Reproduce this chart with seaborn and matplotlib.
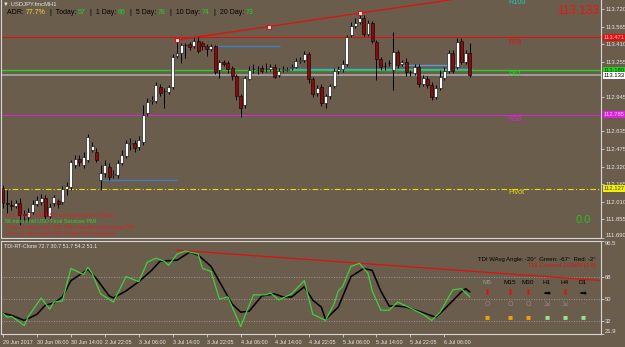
import matplotlib
matplotlib.use("Agg")
import matplotlib.pyplot as plt
import seaborn as sns
import pandas as pd
import numpy as np

# ---- candles (H1 bars, oldest first) ----
opens = [112.132, 111.998, 111.981, 111.972, 111.998, 111.901, 111.874, 111.918, 111.989, 112.007,
         112.043, 111.883, 111.998, 112.016, 112.007, 112.123, 112.141, 112.336, 112.390, 112.336,
         112.381, 112.469, 112.452, 112.203, 112.265, 112.318, 112.247, 112.247, 112.354, 112.416,
         112.523, 112.532, 112.496, 112.541, 112.798, 112.905, 112.905, 113.030, 112.994, 112.985,
         113.030, 113.305, 113.332, 113.403, 113.412, 113.394, 113.439, 113.421, 113.394, 113.367,
         113.394, 113.181, 113.252, 113.243, 113.199, 113.127, 112.950, 112.870, 113.101, 113.190,
         113.181, 113.199, 113.190, 113.190, 113.207, 113.136, 113.181, 113.181, 113.199, 113.207,
         113.261, 113.270, 113.323, 113.101, 112.976, 113.030, 112.887, 112.950, 113.038, 113.172,
         113.190, 113.234, 113.492, 113.572, 113.607, 113.643, 113.501, 113.599, 113.430, 113.279,
         113.216, 113.243, 113.181, 113.341, 113.234, 113.252, 113.163, 113.154, 113.207, 113.056,
         113.101, 113.047, 112.941, 113.021, 113.110, 113.172, 113.332, 113.207, 113.439, 113.252,
         113.332]
closes = [111.998, 111.989, 111.972, 111.998, 111.892, 111.892, 111.918, 111.989, 112.025, 112.043,
          111.883, 111.963, 112.052, 111.989, 112.123, 112.149, 112.363, 112.390, 112.363, 112.407,
          112.585, 112.505, 112.381, 112.265, 112.336, 112.230, 112.256, 112.354, 112.425, 112.532,
          112.532, 112.487, 112.558, 112.781, 112.896, 112.914, 113.047, 112.976, 112.990, 113.030,
          113.296, 113.332, 113.403, 113.400, 113.385, 113.439, 113.350, 113.394, 113.367, 113.394,
          113.163, 113.252, 113.234, 113.190, 113.127, 112.950, 112.843, 113.110, 113.181, 113.186,
          113.177, 113.172, 113.186, 113.207, 113.118, 113.172, 113.190, 113.190, 113.207, 113.261,
          113.270, 113.323, 113.101, 112.967, 113.021, 112.887, 112.950, 113.038, 113.172, 113.190,
          113.234, 113.474, 113.572, 113.599, 113.643, 113.501, 113.599, 113.439, 113.279, 113.207,
          113.212, 113.239, 113.341, 113.225, 113.252, 113.163, 113.159, 113.207, 113.056, 113.110,
          113.047, 112.941, 113.021, 113.118, 113.172, 113.332, 113.172, 113.430, 113.252, 113.332,
          113.136]
highs = [112.158, 112.114, 112.025, 112.025, 112.043, 111.936, 111.954, 112.025, 112.061, 112.078,
         112.069, 111.998, 112.069, 112.034, 112.149, 112.185, 112.381, 112.425, 112.425, 112.452,
         112.612, 112.541, 112.487, 112.336, 112.381, 112.354, 112.292, 112.381, 112.469, 112.558,
         112.576, 112.558, 112.594, 112.870, 112.932, 112.950, 113.074, 113.056, 113.021, 113.047,
         113.323, 113.447, 113.421, 113.421, 113.430, 113.474, 113.483, 113.439, 113.412, 113.412,
         113.403, 113.270, 113.270, 113.261, 113.216, 113.145, 112.967, 113.127, 113.216, 113.234,
         113.216, 113.225, 113.243, 113.234, 113.234, 113.199, 113.216, 113.207, 113.234, 113.287,
         113.296, 113.350, 113.341, 113.118, 113.047, 113.056, 112.967, 113.056, 113.199, 113.216,
         113.270, 113.492, 113.607, 113.643, 113.687, 113.670, 113.625, 113.616, 113.447, 113.296,
         113.252, 113.270, 113.519, 113.359, 113.270, 113.287, 113.181, 113.234, 113.234, 113.136,
         113.127, 113.074, 113.047, 113.181, 113.207, 113.359, 113.359, 113.465, 113.465, 113.359,
         113.421]
lows = [111.954, 111.909, 111.936, 111.954, 111.803, 111.847, 111.829, 111.901, 111.972, 111.981,
        111.856, 111.865, 111.972, 111.954, 111.989, 112.069, 112.114, 112.309, 112.327, 112.309,
        112.363, 112.452, 112.363, 112.114, 112.230, 112.203, 112.221, 112.221, 112.336, 112.398,
        112.469, 112.452, 112.469, 112.514, 112.772, 112.878, 112.887, 112.950, 112.843, 112.967,
        113.012, 113.287, 113.243, 113.287, 113.359, 113.376, 113.332, 113.359, 113.305, 113.350,
        113.145, 113.110, 113.216, 113.154, 113.092, 112.914, 112.763, 112.843, 113.092, 113.154,
        113.145, 113.154, 113.163, 113.172, 113.110, 113.118, 113.163, 113.172, 113.181, 113.199,
        113.243, 113.252, 113.065, 112.941, 112.950, 112.861, 112.843, 112.923, 113.021, 113.145,
        113.163, 113.216, 113.474, 113.554, 113.590, 113.483, 113.483, 113.421, 113.092, 113.181,
        113.181, 113.216, 113.003, 113.199, 113.216, 113.127, 113.127, 113.136, 113.030, 113.038,
        113.021, 112.914, 112.923, 113.003, 113.092, 113.154, 113.154, 113.190, 113.234, 113.234,
        113.118]

# ---- TDI indicator (bar, value) ----
tdi_green_bar = [0, 1, 2, 5, 6, 9, 11, 12, 14, 16, 19, 20, 21, 23, 26, 29, 32, 34, 36, 38, 39, 41, 43,
                 46, 47, 49, 51, 53, 56, 59, 62, 63, 65, 67, 68, 71, 73, 76, 78, 79, 80, 82, 84, 86,
                 87, 89, 91, 93, 95, 97, 99, 101, 103, 106, 108, 110]
tdi_green_val = [38.5, 35.3, 36.1, 28.7, 36.1, 50.8, 41.8, 47.5, 48.4, 74.5, 69.6, 75.4, 70.5, 54.1,
                 47.5, 68.0, 63.9, 79.5, 82.7, 80.3, 77.0, 86.0, 88.5, 86.0, 74.5, 72.1, 50.0, 51.6,
                 27.9, 53.3, 53.3, 54.9, 49.2, 52.5, 54.1, 64.7, 37.7, 32.8, 45.9, 56.5, 59.8, 76.2,
                 78.6, 70.5, 56.5, 41.0, 41.0, 47.5, 44.3, 41.0, 37.7, 32.8, 39.4, 57.4, 58.2, 51.6]
tdi_black_bar = [0, 2, 5, 8, 10, 12, 14, 16, 20, 22, 25, 26, 29, 32, 35, 37, 41, 44, 46, 49, 51, 54,
                 56, 58, 61, 64, 66, 68, 71, 73, 75, 76, 79, 82, 85, 87, 89, 91, 93, 95, 98, 102,
                 104, 108, 109, 110]
tdi_black_val = [38.5, 36.9, 32.8, 37.7, 45.1, 46.7, 51.6, 64.7, 73.7, 66.4, 52.5, 50.8, 56.5, 63.9,
                 72.9, 80.3, 81.1, 87.6, 85.2, 76.2, 63.9, 45.9, 39.4, 40.2, 52.5, 54.1, 51.6, 51.6,
                 59.8, 49.0, 43.5, 33.6, 43.5, 68.0, 74.5, 72.9, 56.5, 44.3, 44.3, 43.5, 40.2, 35.3,
                 41.8, 55.7, 58.2, 55.7]
tdi_levels = [68, 50, 32]

# ---- levels ----
line_r78, line_r61, line_bid, line_r38, line_pivot = 113.471, 113.180, 113.133, 112.785, 112.127
seg_prices = [112.203, 113.394, 113.190, 113.225]
seg_start = [22.8, 49.4, 66.4, 94.0]
seg_end = [40.9, 65.2, 110.5, 107.5]
seg_colors = ["#3D7CC9", "#3D7CC9", "#2FB8C8", "#5E9AD8"]
trend_bar = [40.9, 62.6, 84.2]
trend_price = [113.447, 113.563, 113.687]
tdi_trend_bar = [40.9, 140.5]
tdi_trend_val = [89.2, 64.9]

price_ticks = [113.720, 113.565, 113.410, 113.255, 112.945, 112.635,
               112.475, 112.320, 112.165, 112.010, 111.855, 111.690]
time_bars = [0, 8, 16, 24, 32, 40, 48, 56, 64, 72, 80, 88, 96, 104]
time_labels = ["29 Jun 2017", "30 Jun 06:00", "30 Jun 14:00", "2 Jul 22:05", "3 Jul 06:00",
               "3 Jul 14:00", "3 Jul 22:05", "4 Jul 06:00", "4 Jul 14:00", "4 Jul 22:05",
               "5 Jul 06:00", "5 Jul 14:00", "5 Jul 22:05", "6 Jul 06:00"]

adr_names = ["ADR:", "Today:", "1 Day:", "5 Day:", "10 Day:", "20 Day:"]
adr_values = ["77.7%", "57", "86", "78", "74", "73"]
news = [("1 hr 1 mins until USD Unemployment Claims", "#E02020"),
        ("56 mins until USD Final Services PMI", "#30D030"),
        ("1 hrs 11 mins until USD ISM Non-Manufacturing PMI", "#E02020"),
        ("2 hrs 11 mins until USD Crude Oil Inventories", "#E02020")]
tf_names = ["M5", "M15", "M30", "H1", "H4", "D1"]
tf_dirs = ["down", "down", "down", "right", "down", "right"]
tf_square = ["#F5A000", "#F5A000", "#F5A000", "#8EE88E", "#8EE88E", "#8EE88E"]

BG = "#6B5D4C"
FG = "#E6E6E6"
sns.set_theme(style="ticks")
plt.rcParams["font.family"] = ["Liberation Sans", "DejaVu Sans"]

W, H = 625, 347
fig = plt.figure(figsize=(W / 100, H / 100), dpi=100, facecolor=BG)


def box(l, t, r, b):
    return [l / W, 1 - b / H, (r - l) / W, (b - t) / H]


def px(x, y):
    return x / W, 1 - y / H


ax = fig.add_axes(box(1, 0, 601, 238))
ax2 = fig.add_axes(box(1, 241, 601, 334))
XLIM = (-0.47, 140.9)

for a in (ax, ax2):
    a.set_facecolor(BG)
    a.set_xlim(*XLIM)
    for s in a.spines.values():
        s.set_color("#D8D8D8")
        s.set_linewidth(0.8)
ax.spines["top"].set_visible(False)

# ---- main price panel ----
df = pd.DataFrame({"open": opens, "high": highs, "low": lows, "close": closes})
df["bar"] = np.arange(len(df))
up = df["close"] >= df["open"]
body = (df["close"] - df["open"]).abs().clip(lower=0.004)
ax.vlines(df["bar"], df["low"], df["high"], color="black", lw=0.7, zorder=3)
ax.bar(df["bar"][up], body[up], bottom=df["open"][up], width=0.7, color="white",
       edgecolor="black", linewidth=0.4, zorder=4)
ax.bar(df["bar"][~up], body[~up], bottom=df["close"][~up], width=0.7, color="#8E0A0A",
       edgecolor="black", linewidth=0.4, zorder=4)

ax.axhline(line_r78, color="#E01010", lw=0.8, zorder=2)
ax.axhline(line_r61, color="#22D022", lw=1.0, zorder=2)
ax.axhline(line_bid, color="#A9A9A9", lw=1.2, zorder=1)
ax.axhline(line_r38, color="#E020E0", lw=0.7, zorder=2)
ax.axhline(line_pivot, color="#E8E000", lw=0.8, ls=(0, (5, 2, 1, 2)), zorder=2)
for p, s0, s1, c in zip(seg_prices, seg_start, seg_end, seg_colors):
    ax.hlines(p, s0, s1, color=c, lw=1.0, zorder=2)

slope = (trend_price[-1] - trend_price[0]) / (trend_bar[-1] - trend_bar[0])
ax.plot([trend_bar[0], XLIM[1]], [trend_price[0], trend_price[0] + slope * (XLIM[1] - trend_bar[0])],
        color="#E01010", lw=0.9, zorder=5)
ax.scatter(trend_bar, trend_price, s=7, marker="s", facecolor="white", edgecolor="#E01010",
           linewidth=0.8, zorder=6)

ax.set_ylim(111.687, 113.803)
ax.yaxis.tick_right()
ax.set_yticks(price_ticks)
ax.set_yticklabels([f"{t:.3f}" for t in price_ticks])
ax.tick_params(axis="y", colors=FG, labelsize=4.2, length=2, width=0.5, pad=1)
ax.get_yticklabels()[-1].set_verticalalignment("bottom")
ax.set_xticks([])

for name, y, c in [("R100", 113.778, "#20C8C8"), ("R78", 113.425, "#E01010"),
                   ("R61", 113.137, "#22D022"), ("R38", 112.740, "#E020E0"),
                   ("Pivot", 112.088, "#E8E000")]:
    ax.text(119.0, y, name, color=c, fontsize=5.2, va="center", ha="left")

for price, txt, bg, tc in [(line_r78, "113.471", "#E01010", "#FFD0D0"),
                           (line_r61, "113.180", "#22D022", "#104010"),
                           (line_bid, "113.133", "white", "black"),
                           (line_r38, "112.785", "#E020E0", "#FFD0FF"),
                           (line_pivot, "112.127", "#F0F000", "#404000")]:
    ax.text(1.004, price, txt, transform=ax.get_yaxis_transform(), fontsize=4.2, color=tc,
            va="center", ha="left", clip_on=False,
            bbox=dict(boxstyle="square,pad=0.15", facecolor=bg, edgecolor="none"))

fig.text(*px(599, 11), "113.133", color="#F01010", fontsize=8.5, va="center", ha="right")
fig.text(*px(576, 220), "0.0", color="#22C022", fontsize=8, va="center", ha="left")
fig.text(*px(3, 4), "\u25bc USDJPY.fmcMH1", color=FG, fontsize=4.2, va="center", ha="left")

# ADR line built from chained pieces
t = fig.text(*px(7, 13), adr_names[0] + " ", color="black", fontsize=5.0, va="center", ha="left")
for i, (n, v) in enumerate(zip(adr_names, adr_values)):
    if i > 0:
        t = ax.annotate("  |  " + n + " ", xy=(1, 0), xycoords=t, va="bottom", ha="left",
                        fontsize=5.0, color="black", annotation_clip=False)
    t = ax.annotate(v, xy=(1, 0), xycoords=t, va="bottom", ha="left", fontsize=5.0,
                    color="#E8E030" if i == 0 else "#22D022", annotation_clip=False)

for k, (txt, c) in enumerate(news):
    fig.text(*px(5, 215 + 6.3 * k), txt, color=c, fontsize=4.0, va="center", ha="left")

# ---- TDI panel ----
for lv in tdi_levels:
    ax2.axhline(lv, color="#A8A8A8", lw=0.6, ls=(0, (1, 2)))
ax2.plot(tdi_trend_bar, tdi_trend_val, color="#E01010", lw=0.9)
sns.lineplot(x=tdi_black_bar, y=tdi_black_val, ax=ax2, color="black", lw=1.1)
sns.lineplot(x=tdi_green_bar, y=tdi_green_val, ax=ax2, color="#3DD23D", lw=0.9)
ax2.set_ylim(21.9, 96.5)
ax2.yaxis.tick_right()
ax2.set_yticks([96.5, 68, 50, 32, 21.9])
ax2.set_yticklabels(["96.5", "68", "50", "32", "21.9"])
ax2.tick_params(axis="y", colors=FG, labelsize=4.2, length=2, width=0.5, pad=1)
ax2.get_yticklabels()[0].set_verticalalignment("top")
ax2.get_yticklabels()[-1].set_verticalalignment("bottom")
ax2.set_xticks(time_bars)
ax2.set_xticklabels(time_labels, ha="left")
ax2.tick_params(axis="x", colors=FG, labelsize=3.9, length=2.5, width=0.5, pad=1.5)

fig.text(*px(4, 246), "TDI-RT-Clone 72.7 30.7 51.7 54.2 51.1", color=FG, fontsize=3.9,
         va="center", ha="left")
fig.text(*px(596, 259), "TDI WAvg Angle: -20\u00b0  Green: -67\u00b0  Red: -2\u00b0", color="black",
         fontsize=4.3, va="center", ha="right")
fig.text(*px(596, 266), "TDI Crossed DOWN [1.9]", color="#E01010", fontsize=4.3, va="center",
         ha="right")
tf_x = [487, 510, 528, 547, 565, 583]
for x, n, d, sq in zip(tf_x, tf_names, tf_dirs, tf_square):
    fig.text(*px(x, 283), n, color="#9A9A9A" if n == "M5" else "black", fontsize=4.6,
             va="center", ha="center")
    if d == "down":
        fig.text(*px(x, 294), "\u2b07", color="#E01010", fontsize=6, va="center", ha="center")
    else:
        fig.text(*px(x, 294), "\u27a1", color="black", fontsize=6, va="center", ha="center")
    fig.text(*px(x, 305), "O" if x < 540 else ("\u00b7" if n == "D1" else "\u21f2"),
             color="#8C8C8C", fontsize=5, va="center", ha="center")
    fig.text(*px(x, 318), "\u25a0", color=sq, fontsize=6, va="center", ha="center")

fig.savefig("out.png", dpi=100, facecolor=BG)
